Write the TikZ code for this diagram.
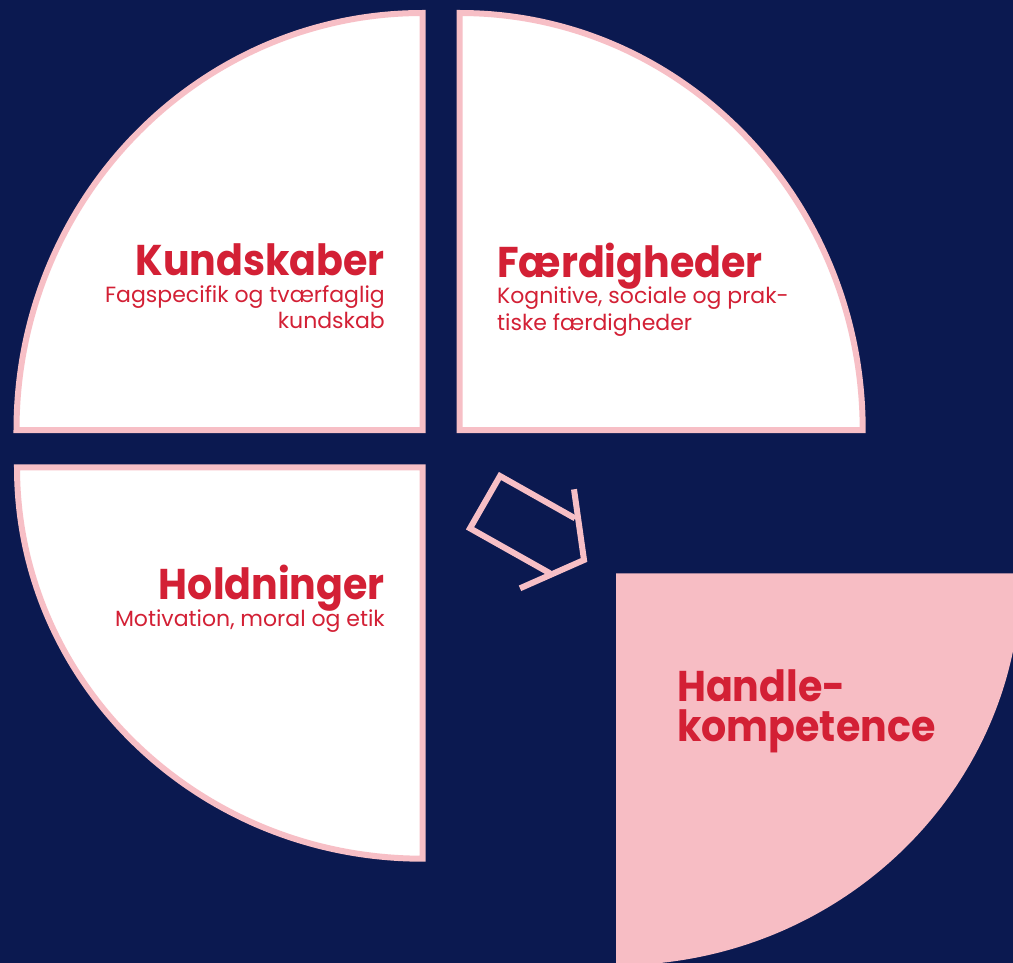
\documentclass[tikz,border=0pt]{standalone}
\usepackage{fontspec}
\setmainfont{Poppins}
\newfontfamily\headfont[FakeStretch=0.92]{Poppins}
\definecolor{navy}{HTML}{0B1950}
\definecolor{pinkline}{HTML}{F7BFC6}
\definecolor{pinkfill}{HTML}{F7BDC4}
\definecolor{redtxt}{HTML}{D32035}
\begin{document}
\begin{tikzpicture}[x=1pt,y=-1pt,
  quad/.style={fill=white,draw=pinkline,line width=6pt,line join=miter},
  arrowline/.style={draw=pinkline,line width=6pt,line join=miter,line cap=butt},
  head/.style={text=redtxt,inner sep=0pt,text depth=0pt,font=\headfont\fontsize{43}{43}\selectfont\bfseries},
  sub/.style={text=redtxt,inner sep=0pt,font=\fontsize{22}{22}\selectfont}]
\useasboundingbox (0,0) rectangle (1013,963);
\fill[navy] (0,0) rectangle (1013,963);
\begin{scope}
\clip (0,0) rectangle (1013,963);
% top-left quadrant
\draw[quad] (422.5,430) -- (16.5,430) arc[start angle=180,end angle=90,x radius=406pt,y radius=417pt] -- cycle;
% top-right quadrant
\draw[quad] (459.7,430) -- (459.7,13) arc[start angle=90,end angle=0,x radius=403pt,y radius=417pt] -- cycle;
% bottom-left quadrant
\draw[quad] (422.7,467.3) -- (17,467.3) arc[start angle=180,end angle=270,x radius=405.7pt,y radius=391.4pt] -- cycle;
% pink quadrant
\fill[pinkfill] (616,573.3) -- (1021,573.3) arc[start angle=0,end angle=-90,x radius=405pt,y radius=392pt] -- cycle;
\end{scope}
% arrow
\coordinate (tr) at (575,518.3);
\coordinate (tp) at (500,476);
\coordinate (lf) at (470,528.3);
\coordinate (bj) at (550,573.3);
\coordinate (tb) at (574,489.3);
\coordinate (tip) at (584,560);
\coordinate (bb) at (520,588.3);
\draw[arrowline] (tr) -- (tp) -- (lf) -- (bj);
\draw[arrowline] (tb) -- (tip) -- (bb);
% texts
\node[head,anchor=base east] (kund) at (385,276) {Kundskaber};
\node[sub,anchor=base east] (kund1) at (385,302) {Fagspecifik og tværfaglig};
\node[sub,anchor=base east] (kund2) at (385,328) {kundskab};
\node[head,anchor=base west] (faer) at (497,277) {Færdigheder};
\node[sub,anchor=base west] (faer1) at (497,303) {Kognitive, sociale og prak-};
\node[sub,anchor=base west] (faer2) at (497,330) {tiske færdigheder};
\node[head,anchor=base east] (hold) at (385,599) {Holdninger};
\node[sub,anchor=base east] (hold1) at (385,626) {Motivation, moral og etik};
\node[head,anchor=base west] (hand) at (677,701) {Handle-};
\node[head,anchor=base west] (hand2) at (677,741) {kompetence};
\end{tikzpicture}
\end{document}
